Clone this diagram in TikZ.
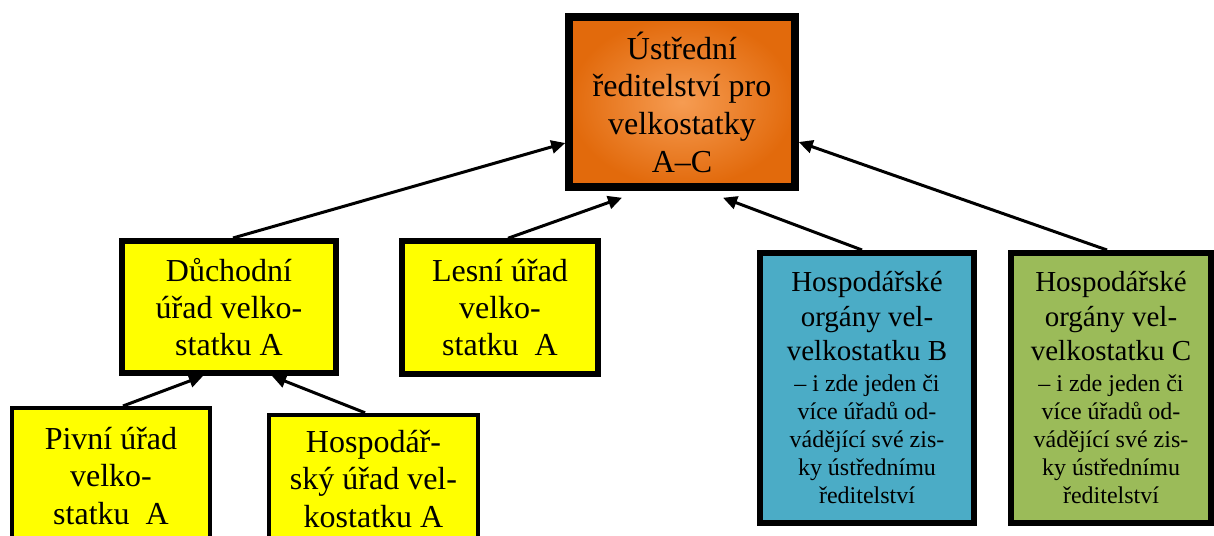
\documentclass[tikz,border=0pt]{standalone}
\usepackage{fontspec}
\setmainfont{Liberation Serif}
\usetikzlibrary{arrows.meta}
\setlength{\parindent}{0pt}
\definecolor{boxyellow}{RGB}{255,255,0}
\definecolor{boxblue}{RGB}{75,172,198}
\definecolor{boxgreen}{RGB}{155,187,89}
\definecolor{orangelight}{RGB}{246,156,82}
\definecolor{orangedark}{RGB}{226,106,12}
\begin{document}
\begin{tikzpicture}[x=1pt,y=-1pt,
  box/.style={draw=black, inner sep=0pt, align=flush center},
  bigtext/.style={font=\fontsize{32}{37.2}\selectfont},
  arr/.style={line width=3pt, -{Triangle[length=14pt,width=13pt]}}]
\useasboundingbox (0,0) rectangle (1214,535);
\fill[white] (0,0) rectangle (1214,535);

\node[box, line width=7.5pt, text width=226pt, minimum height=170pt,
      inner color=orangelight, outer color=orangedark,
      font=\fontsize{32}{37.7}\selectfont] (top) at (682,102)
  {Ústřední\\ředitelství pro\\velkostatky\\A–C};

\node[box, fill=boxyellow, line width=6pt, text width=214pt, minimum height=132pt, bigtext]
  (duch) at (229,307) {Důchodní\\úřad velko-\\statku A};

\node[box, fill=boxyellow, line width=5.5pt, text width=196pt, minimum height=133pt, bigtext]
  (lesni) at (500,307.5) {Lesní úřad\\velko-\\statku\ \ A};

\node[box, fill=boxblue, line width=6pt, text width=214pt, minimum height=270pt]
  (blue) at (867,388)
  {{\fontsize{29}{34.5}\selectfont Hospodářské\\orgány vel-\\velkostatku B\par}\vspace{3pt}%
   {\fontsize{24}{28}\selectfont – i zde jeden či\\více úřadů od-\\vádějící své zis-\\ky ústřednímu\\ředitelství\par}};

\node[box, fill=boxgreen, line width=6pt, text width=200pt, minimum height=270pt]
  (green) at (1111,388)
  {{\fontsize{29}{34.5}\selectfont Hospodářské\\orgány vel-\\velkostatku C\par}\vspace{3pt}%
   {\fontsize{24}{28}\selectfont – i zde jeden či\\více úřadů od-\\vádějící své zis-\\ky ústřednímu\\ředitelství\par}};

\node[box, fill=boxyellow, line width=4pt, text width=198pt, minimum height=136pt, bigtext]
  (pivni) at (111,476) {Pivní úřad\\velko-\\statku\ \ A};

\node[box, fill=boxyellow, line width=4.5pt, text width=209pt, minimum height=128pt, bigtext]
  (hosp) at (373.5,479) {Hospodář-\\ský úřad vel-\\kostatku A};

\draw[arr] ([xshift=4pt]duch.north) -- ([yshift=-41pt]top.west);
\draw[arr] ([xshift=8pt]lesni.north) -- ([xshift=-60pt,yshift=-7pt]top.south);
\draw[arr] ([xshift=-5pt]blue.north) -- ([xshift=41pt,yshift=-7pt]top.south);
\draw[arr] ([xshift=-4pt]green.north) -- ([yshift=-40pt]top.east);
\draw[arr] ([xshift=12pt]pivni.north) -- ([xshift=-26pt]duch.south);
\draw[arr] ([xshift=-8.5pt]hosp.north) -- ([xshift=43pt]duch.south);
\end{tikzpicture}
\end{document}
